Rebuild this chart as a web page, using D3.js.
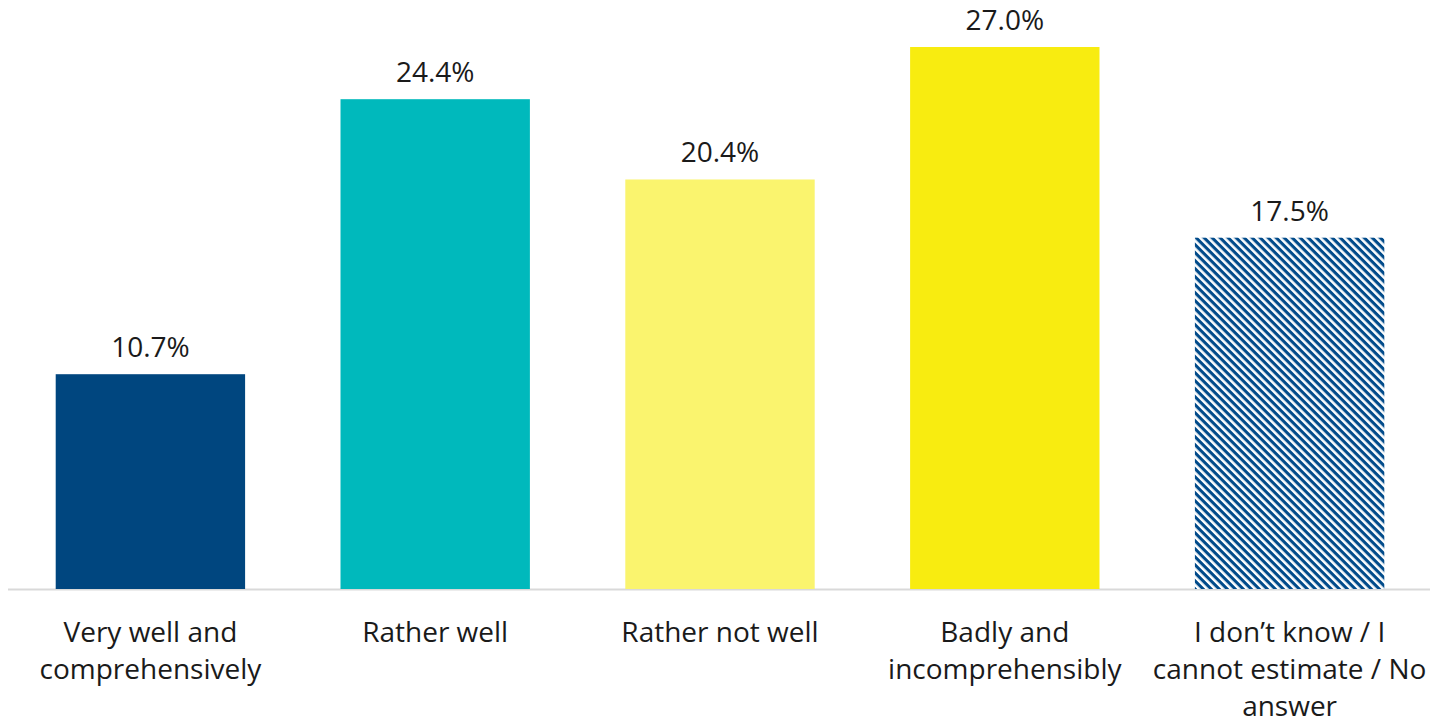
<!DOCTYPE html>
<html><head><meta charset="utf-8">
<script src="https://cdn.jsdelivr.net/npm/d3@7"></script>
<style>html,body{margin:0;padding:0;background:#fff;}svg{display:block;}</style>
</head><body>
<script>
const categories = [["Very well and","comprehensively"],["Rather well"],["Rather not well"],["Badly and","incomprehensibly"],["I don\u2019t know / I","cannot estimate / No","answer"]];
const values = [10.7, 24.4, 20.4, 27.0, 17.5];
const colors = ["#00467f", "#00b9bc", "#faf46e", "#f8ec10", "url(#hatch)"];

const W = 1430, H = 723;
const svg = d3.select("body").append("svg").attr("width", W).attr("height", H);
const defs = svg.append("defs");
const pat = defs.append("pattern").attr("id","hatch").attr("patternUnits","userSpaceOnUse")
  .attr("width",5.66).attr("height",5.66).attr("patternTransform","rotate(45)");
pat.append("rect").attr("width",5.66).attr("height",5.66).attr("fill","#fff");
pat.append("rect").attr("x",0).attr("y",0).attr("width",5.66).attr("height",3.1).attr("fill","#004a8a");

const x = d3.scaleBand().domain(d3.range(values.length)).range([8, 1432]).paddingInner(0.335).paddingOuter(0.1675);
const y = d3.scaleLinear().domain([0, 27.0]).range([589, 47]);

svg.append("line").attr("x1",8).attr("x2",1430).attr("y1",589.5).attr("y2",589.5)
  .attr("stroke","#d9d9d9").attr("stroke-width",2);

svg.selectAll("rect.bar").data(values).join("rect").attr("class","bar")
  .attr("x",(d,i)=>x(i)).attr("width",x.bandwidth())
  .attr("y",d=>y(d)).attr("height",d=>y(0)-y(d)).attr("fill",(d,i)=>colors[i]);

const font = "'Open Sans', 'Noto Sans', sans-serif";
svg.selectAll("text.val").data(values).join("text").attr("class","val")
  .attr("x",(d,i)=>x(i)+x.bandwidth()/2).attr("y",d=>y(d)-17)
  .attr("text-anchor","middle").attr("font-family",font).attr("font-size",28).attr("fill","#1a1a1a")
  .text(d=>d.toFixed(1)+"%");

const g = svg.selectAll("text.cat").data(categories).join("text").attr("class","cat")
  .attr("text-anchor","middle").attr("font-family",font).attr("font-size",28).attr("fill","#1a1a1a");
g.each(function(lines,i){
  const t = d3.select(this);
  lines.forEach((l,k)=>{
    t.append("tspan").attr("x", x(i)+x.bandwidth()/2).attr("y", 642 + k*37).text(l);
  });
});
</script>
</body></html>
